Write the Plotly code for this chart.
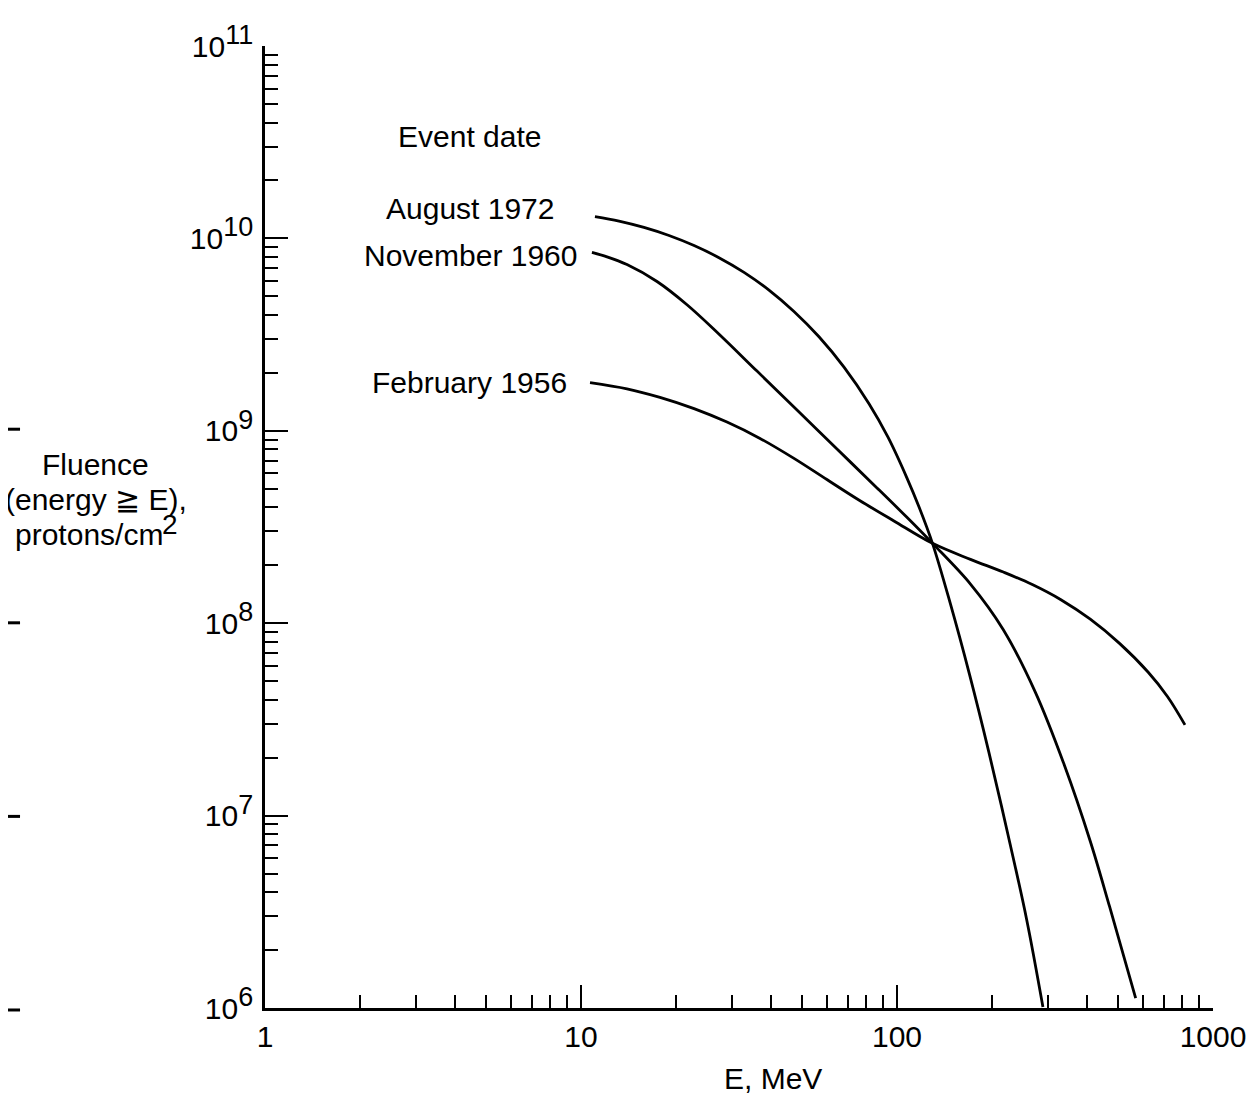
import plotly.graph_objects as go

# ---- data ----
aug1972_E = [11.07, 13.19, 15.82, 18.99, 22.79, 27.33, 32.8, 39.35, 47.2, 56.64, 67.97,
             81.55, 93.65, 107.3, 117.6, 129.5, 147.3, 169.6, 195.2, 224.7, 256.9, 289.6]
aug1972_F = [1.296e10, 1.230e10, 1.140e10, 1.035e10, 9.18e9, 7.94e9, 6.66e9, 5.385e9, 4.172e9,
             3.081e9, 2.141e9, 1.382e9, 9.26e8, 5.73e8, 3.99e8, 2.60e8, 1.274e8, 5.42e7,
             2.145e7, 7.90e6, 2.913e6, 1.012e6]

nov1960_E = [10.83, 12.09, 13.98, 17.40, 21.65, 26.94, 36.06, 48.26, 64.58, 86.44, 107.3,
             129.5, 170.8, 217.0, 273.7, 338.2, 408.9, 470.8, 569.2]
nov1960_F = [8.45e9, 8.02e9, 7.31e9, 5.97e9, 4.52e9, 3.254e9, 2.043e9, 1.282e9, 8.04e8,
             5.05e8, 3.56e8, 2.60e8, 1.597e8, 9.25e7, 4.40e7, 1.838e7, 7.36e6, 3.36e6, 1.126e6]

feb1956_E = [10.68, 13.98, 17.78, 22.79, 28.97, 36.86, 47.2, 60.0, 76.4, 97.8, 129.5,
             170.8, 217.0, 268.0, 331.1, 408.9, 505.0, 623.8, 718.4, 815.2]
feb1956_F = [1.781e9, 1.653e9, 1.492e9, 1.304e9, 1.110e9, 9.13e8, 7.19e8, 5.58e8, 4.33e8,
             3.40e8, 2.60e8, 2.147e8, 1.844e8, 1.588e8, 1.321e8, 1.049e8, 7.88e7, 5.56e7,
             4.15e7, 2.962e7]

x_major = [1, 10, 100, 1000]
x_major_text = ["1", "10", "100", "1000"]
y_major = [1e6, 1e7, 1e8, 1e9, 1e10, 1e11]
y_exponents = ["6", "7", "8", "9", "10", "11"]
x_minor = [m * d for d in (1, 10, 100) for m in range(2, 10)]
y_minor = [m * d for d in (1e6, 1e7, 1e8, 1e9, 1e10) for m in range(2, 10)]

series_names = ["August 1972", "November 1960", "February 1956"]

FONT = "Liberation Sans, Arial, Helvetica, sans-serif"
FS = 30
SUP = "<sup><span style='font-size:27px'>{}</span></sup>"
y_major_text = ["10" + SUP.format(e) for e in y_exponents]

fig = go.Figure()
for name, E, F in zip(series_names,
                      [aug1972_E, nov1960_E, feb1956_E],
                      [aug1972_F, nov1960_F, feb1956_F]):
    fig.add_trace(go.Scatter(x=E, y=F, mode="lines", name=name,
                             line=dict(color="black", width=2.8, shape="spline", smoothing=1.0),
                             showlegend=False, hoverinfo="skip"))

# page body has an 8px margin, so the figure is shifted by 8px
OFF = 8
W, H = 1250, 1091
L, R, T, B = 257, 41, 31, 91
pw, ph = W - L - R, H - T - B


def px(sx):  # screen x -> paper
    return (sx - OFF - L) / pw


def py(sy):  # screen y -> paper
    return (H - B - (sy - OFF)) / ph


axis_common = dict(
    showline=True, linecolor="black", linewidth=2.5, mirror=False,
    showgrid=False, zeroline=False,
    ticks="inside", ticklen=23, tickwidth=2, tickcolor="black",
    tickfont=dict(family=FONT, size=FS, color="black"),
)

fig.update_xaxes(type="log", range=[0, 3], tickmode="array", tickvals=x_major,
                 ticktext=x_major_text, ticklabelstandoff=0,
                 minor=dict(ticks="inside", ticklen=13, tickwidth=1.6, tickcolor="black",
                            tickvals=x_minor, showgrid=False),
                 **axis_common)
fig.update_yaxes(type="log", range=[6, 11], tickmode="array", tickvals=y_major,
                 ticktext=y_major_text, ticklabelstandoff=3,
                 minor=dict(ticks="inside", ticklen=13, tickwidth=1.6, tickcolor="black",
                            tickvals=y_minor, showgrid=False),
                 **axis_common)

annots = [
    ("Event date", 470, 130, FS),
    ("August 1972", 471, 203, FS),
    ("November 1960", 471, 250, FS),
    ("February 1956", 470, 378, FS),
    ("Fluence", 95, 461, FS),
    ("(energy \u2267 E),", 95, 496, FS),
    ("protons/cm", 88, 531, FS),
    ("2", 170, 521, 28),
    ("E, MeV", 775, 1079, FS),
]
for text, x, y, size in annots:
    fig.add_annotation(text=text, x=px(x), y=py(y), xref="paper", yref="paper",
                       xanchor="center", yanchor="middle", showarrow=False,
                       font=dict(family=FONT, size=size, color="black"))

# small scan marks at the left page edge
for y in (425, 620, 815, 1010):
    fig.add_shape(type="line", xref="paper", yref="paper",
                  x0=px(4), x1=px(19), y0=py(y), y1=py(y),
                  line=dict(color="black", width=3))

fig.update_layout(
    width=W, height=H,
    margin=dict(l=L, r=R, t=T, b=B, pad=0),
    paper_bgcolor="white", plot_bgcolor="white",
    font=dict(family=FONT, size=FS, color="black"),
    showlegend=False,
)

fig.write_html("out.html")
